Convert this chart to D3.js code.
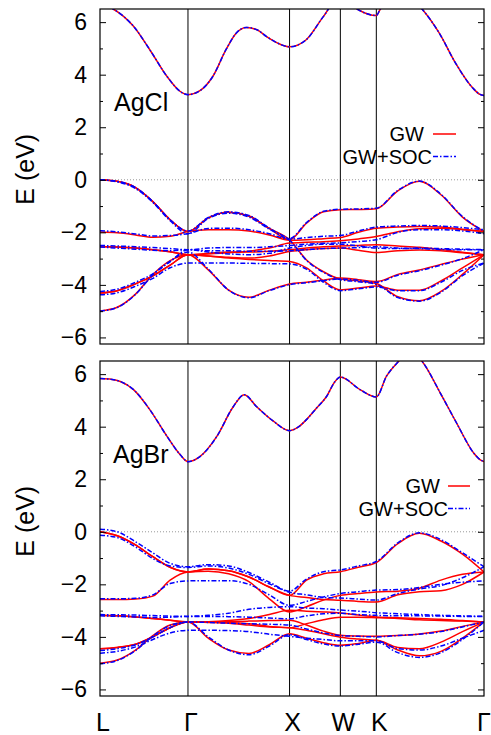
<!DOCTYPE html>
<html>
<head>
<meta charset="UTF-8">
<title>AgCl / AgBr band structure</title>
<script src="https://d3js.org/d3.v7.min.js"></script>
<style>
  body { margin: 0; background: #fff; }
  svg text { font-family: "Liberation Sans", Arial, sans-serif; fill: #000; }
</style>
</head>
<body>
<svg width="491" height="735"></svg>
<script>
// high-symmetry points along the path (2pi/a units) and their labels
const kPoints = [0, 0.866, 1.866, 2.366, 2.72, 3.78];
const kLabels = ["L", "Γ", "X", "W", "K", "Γ"];
const eTicks = [-6, -4, -2, 0, 2, 4, 6];
const eMinor = [-5, -3, -1, 1, 3, 5];
const seriesNames = ["GW", "GW+SOC"];
const materials = ["AgCl", "AgBr"];

// k sampling used by the valence bands
const kGrid = [0, 0.17, 0.35, 0.52, 0.69, 0.866,
  1.066, 1.266, 1.466, 1.666, 1.866,
  2.033, 2.2, 2.366,
  2.543, 2.72,
  2.932, 3.144, 3.356, 3.568, 3.78];

// lowest conduction band [k, E] (same with and without SOC)
const cbAgCl = [[0, 6.7], [0.13, 6.5], [0.33, 5.84], [0.49, 4.95], [0.66, 3.93], [0.79, 3.36], [0.866, 3.24],
  [0.98, 3.38], [1.11, 3.93], [1.24, 4.95], [1.34, 5.58], [1.44, 5.8], [1.55, 5.7], [1.64, 5.45], [1.75, 5.2], [1.866, 5.06],
  [2.03, 5.33], [2.2, 6.22], [2.366, 7.0], [2.53, 6.5], [2.72, 6.25],
  [2.76, 6.5], [2.96, 7.2], [3.17, 6.5], [3.34, 5.58], [3.5, 4.44], [3.67, 3.49], [3.74, 3.25], [3.78, 3.21]];
const cbAgBr = [[0, 5.83], [0.12, 5.8], [0.2, 5.72], [0.33, 5.41], [0.49, 4.65], [0.66, 3.63], [0.79, 2.93], [0.866, 2.67],
  [0.98, 2.85], [1.15, 3.63], [1.31, 4.75], [1.42, 5.22], [1.54, 4.77], [1.71, 4.2], [1.866, 3.85],
  [1.95, 3.98], [2.03, 4.26], [2.13, 4.7], [2.23, 5.15], [2.31, 5.7], [2.366, 5.89],
  [2.56, 5.41], [2.72, 5.13],
  [2.82, 5.92], [2.94, 6.49], [3.05, 6.9], [3.17, 6.49], [3.35, 5.28], [3.51, 4.14], [3.68, 2.99], [3.74, 2.75], [3.78, 2.67]];

// valence bands on kGrid, AgCl
const agclGW = [
  [0, -0.06, -0.30, -0.83, -1.52, -1.97, -1.45, -1.24, -1.38, -1.85, -2.28, -1.65, -1.22, -1.14, -1.13, -1.10, -0.42, -0.06, -0.57, -1.42, -1.97],
  [-1.99, -2.02, -2.10, -2.19, -2.15, -1.97, -1.9, -1.9, -1.95, -2.1, -2.3, -2.28, -2.24, -2.2, -2.0, -1.84, -1.8, -1.78, -1.8, -1.88, -1.97],
  [-2.54, -2.56, -2.6, -2.66, -2.74, -2.85, -2.82, -2.78, -2.72, -2.6, -2.41, -2.38, -2.36, -2.32, -2.25, -2.16, -1.98, -1.86, -1.84, -1.9, -1.97],
  [-2.54, -2.56, -2.6, -2.66, -2.74, -2.85, -2.8, -2.75, -2.75, -2.72, -2.66, -2.6, -2.55, -2.52, -2.5, -2.47, -2.52, -2.57, -2.65, -2.76, -2.85],
  [-4.31, -4.22, -3.96, -3.66, -3.25, -2.85, -2.9, -2.95, -2.98, -2.9, -2.73, -2.66, -2.62, -2.6, -2.68, -2.77, -2.7, -2.67, -2.7, -2.78, -2.85],
  [-4.31, -4.22, -3.96, -3.66, -3.25, -2.85, -2.9, -2.98, -3.03, -3.07, -3.11, -3.35, -3.85, -4.19, -4.12, -4.04, -4.2, -4.2, -3.85, -3.35, -2.85],
  [-4.99, -4.85, -4.35, -3.61, -3.08, -2.85, -3.43, -4.2, -4.47, -4.2, -3.97, -3.9, -3.82, -3.74, -3.8, -3.87, -3.6, -3.43, -3.22, -3.02, -2.85],
  [0, -0.06, -0.30, -0.83, -1.52, -1.97, -1.45, -1.24, -1.38, -1.85, -2.28, -3.05, -3.5, -3.78, -3.85, -3.95, -4.45, -4.6, -4.25, -3.6, -2.85]
];
const agclSOC = [
  [0.0, -0.06, -0.30, -0.83, -1.52, -1.95, -1.43, -1.22, -1.36, -1.83, -2.24, -1.63, -1.2, -1.12, -1.11, -1.08, -0.4, -0.05, -0.55, -1.4, -1.95],
  [-1.94, -1.98, -2.06, -2.14, -2.12, -2.05, -1.85, -1.84, -1.9, -2.05, -2.26, -2.2, -2.15, -2.12, -1.95, -1.8, -1.76, -1.74, -1.76, -1.82, -1.9],
  [-2.5, -2.52, -2.55, -2.58, -2.62, -2.66, -2.6, -2.58, -2.58, -2.55, -2.5, -2.45, -2.42, -2.4, -2.35, -2.28, -2.0, -1.9, -1.9, -1.95, -2.05],
  [-2.56, -2.6, -2.64, -2.68, -2.7, -2.66, -2.7, -2.7, -2.72, -2.72, -2.7, -2.66, -2.62, -2.6, -2.58, -2.55, -2.6, -2.62, -2.65, -2.66, -2.66],
  [-4.25, -4.16, -3.9, -3.58, -3.12, -2.66, -2.75, -2.82, -2.85, -2.8, -2.6, -2.5, -2.45, -2.45, -2.52, -2.6, -2.62, -2.6, -2.62, -2.64, -2.66],
  [-4.38, -4.3, -4.05, -3.75, -3.35, -3.17, -3.17, -3.17, -3.18, -3.19, -3.2, -3.4, -3.9, -4.22, -4.15, -4.08, -4.22, -4.22, -3.9, -3.45, -3.17],
  [-5.0, -4.86, -4.36, -3.62, -3.1, -2.75, -3.4, -4.2, -4.49, -4.22, -3.99, -3.92, -3.84, -3.77, -3.83, -3.9, -3.63, -3.46, -3.25, -3.0, -2.66],
  [0.0, -0.08, -0.33, -0.86, -1.56, -2.05, -1.47, -1.27, -1.42, -1.88, -2.3, -3.07, -3.52, -3.8, -3.88, -3.98, -4.48, -4.62, -4.28, -3.65, -3.17]
];

// valence bands on kGrid, AgBr
const agbrGW = [
  [0, -0.15, -0.5, -0.95, -1.35, -1.53, -1.42, -1.48, -1.72, -2.1, -2.42, -1.84, -1.6, -1.52, -1.35, -1.17, -0.45, -0.06, -0.35, -0.85, -1.53],
  [-2.58, -2.58, -2.56, -2.45, -1.84, -1.53, -1.5, -1.6, -1.9, -2.55, -3.05, -2.85, -2.6, -2.42, -2.35, -2.29, -2.26, -2.15, -1.84, -1.62, -1.53],
  [-3.18, -3.2, -3.24, -3.3, -3.37, -3.43, -3.43, -3.42, -3.4, -3.38, -3.37, -3.55, -3.78, -3.94, -3.97, -3.98, -3.95, -3.89, -3.78, -3.6, -3.43],
  [-3.18, -3.2, -3.24, -3.3, -3.37, -3.43, -3.44, -3.45, -3.5, -3.6, -3.65, -3.5, -3.35, -3.25, -3.25, -3.27, -3.3, -3.35, -3.38, -3.4, -3.43],
  [-4.45, -4.4, -4.28, -4.0, -3.65, -3.43, -3.42, -3.38, -3.3, -3.15, -2.99, -3.02, -3.05, -3.09, -3.17, -3.24, -3.27, -3.3, -3.33, -3.38, -3.43],
  [-4.45, -4.4, -4.28, -4.0, -3.65, -3.43, -4.05, -4.5, -4.63, -4.3, -3.88, -4.05, -4.22, -4.32, -4.25, -4.13, -4.4, -4.45, -4.2, -3.8, -3.43],
  [-5.0, -4.88, -4.5, -3.95, -3.55, -3.43, -3.45, -3.48, -3.55, -3.62, -3.65, -3.75, -3.88, -4.01, -4.08, -4.13, -4.5, -4.72, -4.55, -4.05, -3.43],
  [0, -0.15, -0.5, -0.95, -1.35, -1.53, -1.42, -1.48, -1.72, -2.1, -2.42, -2.5, -2.58, -2.61, -2.65, -2.67, -2.4, -2.28, -2.24, -2.0, -1.53]
];
const agbrSOC = [
  [0.1, 0.0, -0.38, -0.8, -1.2, -1.33, -1.25, -1.3, -1.55, -1.92, -2.26, -1.8, -1.52, -1.45, -1.3, -1.13, -0.42, -0.04, -0.3, -0.8, -1.33],
  [-0.13, -0.22, -0.58, -1.02, -1.3, -1.36, -1.3, -1.38, -1.62, -1.98, -2.3, -2.4, -2.5, -2.52, -2.56, -2.6, -2.35, -2.18, -2.05, -1.75, -1.33],
  [-2.55, -2.55, -2.53, -2.4, -1.97, -1.87, -1.86, -1.86, -2.0, -2.4, -2.8, -2.65, -2.48, -2.35, -2.28, -2.22, -2.2, -2.12, -2.0, -1.92, -1.87],
  [-3.15, -3.16, -3.17, -3.19, -3.21, -3.22, -3.22, -3.23, -3.25, -3.28, -3.31, -3.2, -3.12, -3.1, -3.15, -3.18, -3.2, -3.2, -3.21, -3.22, -3.22],
  [-3.2, -3.22, -3.24, -3.26, -3.25, -3.22, -3.18, -3.1, -2.95, -2.88, -2.85, -2.9, -2.93, -2.98, -3.02, -3.08, -3.12, -3.15, -3.18, -3.2, -3.22],
  [-4.52, -4.45, -4.3, -4.0, -3.65, -3.43, -3.45, -3.48, -3.5, -3.52, -3.55, -3.7, -3.85, -3.95, -3.98, -4.0, -3.95, -3.9, -3.8, -3.62, -3.43],
  [-4.62, -4.55, -4.38, -4.1, -3.85, -3.75, -3.75, -3.76, -3.8, -3.9, -3.98, -4.05, -4.1, -4.15, -4.15, -4.15, -4.45, -4.5, -4.35, -4.05, -3.75],
  [-5.02, -4.9, -4.52, -3.97, -3.57, -3.43, -4.0, -4.5, -4.68, -4.35, -3.92, -4.1, -4.27, -4.35, -4.28, -4.2, -4.6, -4.78, -4.6, -4.1, -3.43]
];

const panels = [
  { name: materials[0], top: 9, bottom: 344, cb: cbAgCl, gw: agclGW, soc: agclSOC,
    nameX: 114, nameY: 111, keyText: [424, 432], keyLine: [433, 456], keyY: [134, 156.5] },
  { name: materials[1], top: 361, bottom: 696, cb: cbAgBr, gw: agbrGW, soc: agbrSOC,
    nameX: 113, nameY: 463, keyText: [440, 448], keyLine: [448, 470], keyY: [486, 508.5] }
];

const svg = d3.select("svg");
const x = d3.scaleLinear().domain([0, 3.78]).range([100, 484]);
const onGrid = band => band.map((e, j) => [kGrid[j], e]);
const red = "#ff0000", blue = "#0000ff";
const dash = "5,2,1.5,2";

panels.forEach((p, i) => {
  const y = d3.scaleLinear().domain([-6.25, 6.5]).range([p.bottom, p.top]);
  const g = svg.append("g");
  const line = d3.line().x(d => x(d[0])).y(d => y(d[1])).curve(d3.curveMonotoneX);

  g.append("clipPath").attr("id", "clip" + i)
    .append("rect").attr("x", 100).attr("y", p.top)
    .attr("width", 384).attr("height", p.bottom - p.top);

  // Fermi level
  g.append("line")
    .attr("x1", 100).attr("x2", 484)
    .attr("y1", y(0)).attr("y2", y(0))
    .attr("stroke", "#999").attr("stroke-width", 1).attr("stroke-dasharray", "1,2");

  // high-symmetry lines
  g.selectAll(".kline")
    .data(kPoints.slice(1, -1))
    .join("line")
    .attr("x1", d => x(d)).attr("x2", d => x(d))
    .attr("y1", p.top).attr("y2", p.bottom)
    .attr("stroke", "#000").attr("stroke-width", 1);

  const bands = g.append("g").attr("clip-path", `url(#clip${i})`).attr("fill", "none");

  // GW
  bands.selectAll(".gw")
    .data([p.cb].concat(p.gw.map(onGrid)))
    .join("path")
    .attr("d", line)
    .attr("stroke", red).attr("stroke-width", 1.5);

  // GW+SOC
  bands.selectAll(".soc")
    .data([p.cb].concat(p.soc.map(onGrid)))
    .join("path")
    .attr("d", line)
    .attr("stroke", blue).attr("stroke-width", 1.5)
    .attr("stroke-dasharray", dash);

  // frame
  g.append("rect")
    .attr("x", 100).attr("y", p.top)
    .attr("width", 384).attr("height", p.bottom - p.top)
    .attr("fill", "none").attr("stroke", "#000").attr("stroke-width", 1.2);

  // y axes, ticks pointing inwards
  const left = g.append("g").attr("transform", "translate(100,0)")
    .call(d3.axisLeft(y).tickValues(eTicks).tickSizeInner(-6).tickSizeOuter(0).tickPadding(13));
  left.append("g")
    .call(d3.axisLeft(y).tickValues(eMinor).tickSizeInner(-3).tickSizeOuter(0).tickFormat(""));
  g.append("g").attr("transform", "translate(484,0)")
    .call(d3.axisRight(y).tickValues(eTicks).tickSizeInner(-6).tickSizeOuter(0).tickFormat(""))
    .append("g")
    .call(d3.axisRight(y).tickValues(eMinor).tickSizeInner(-3).tickSizeOuter(0).tickFormat(""));
  g.selectAll(".domain").remove();
  g.selectAll(".tick line").attr("stroke", "#000");
  left.selectAll("text")
    .attr("font-size", 23)
    .attr("font-family", "Liberation Sans, Arial, sans-serif");

  // axis title
  g.append("text")
    .attr("transform", `translate(25,${y(0.4)}) rotate(-90)`)
    .attr("text-anchor", "middle")
    .attr("dy", "0.35em")
    .attr("font-size", 25)
    .text("E (eV)");

  // material
  g.append("text")
    .attr("x", p.nameX).attr("y", p.nameY)
    .attr("font-size", 25)
    .text(p.name);

  // key
  seriesNames.forEach((s, j) => {
    g.append("text")
      .attr("x", p.keyText[j]).attr("y", p.keyY[j])
      .attr("dy", "0.35em")
      .attr("text-anchor", "end")
      .attr("font-size", 20)
      .text(s);
    g.append("line")
      .attr("x1", p.keyLine[0]).attr("x2", p.keyLine[1])
      .attr("y1", p.keyY[j]).attr("y2", p.keyY[j])
      .attr("stroke", j === 0 ? red : blue)
      .attr("stroke-width", 1.5)
      .attr("stroke-dasharray", j === 0 ? null : dash);
  });
});

// k labels under the lower panel
svg.selectAll(".klabel")
  .data(kPoints)
  .join("text")
  .attr("x", (d, i) => x(d) + (i === kPoints.length - 1 ? 0 : 3))
  .attr("y", 731)
  .attr("text-anchor", "middle")
  .attr("font-size", 25)
  .text((d, i) => kLabels[i]);
</script>
</body>
</html>
